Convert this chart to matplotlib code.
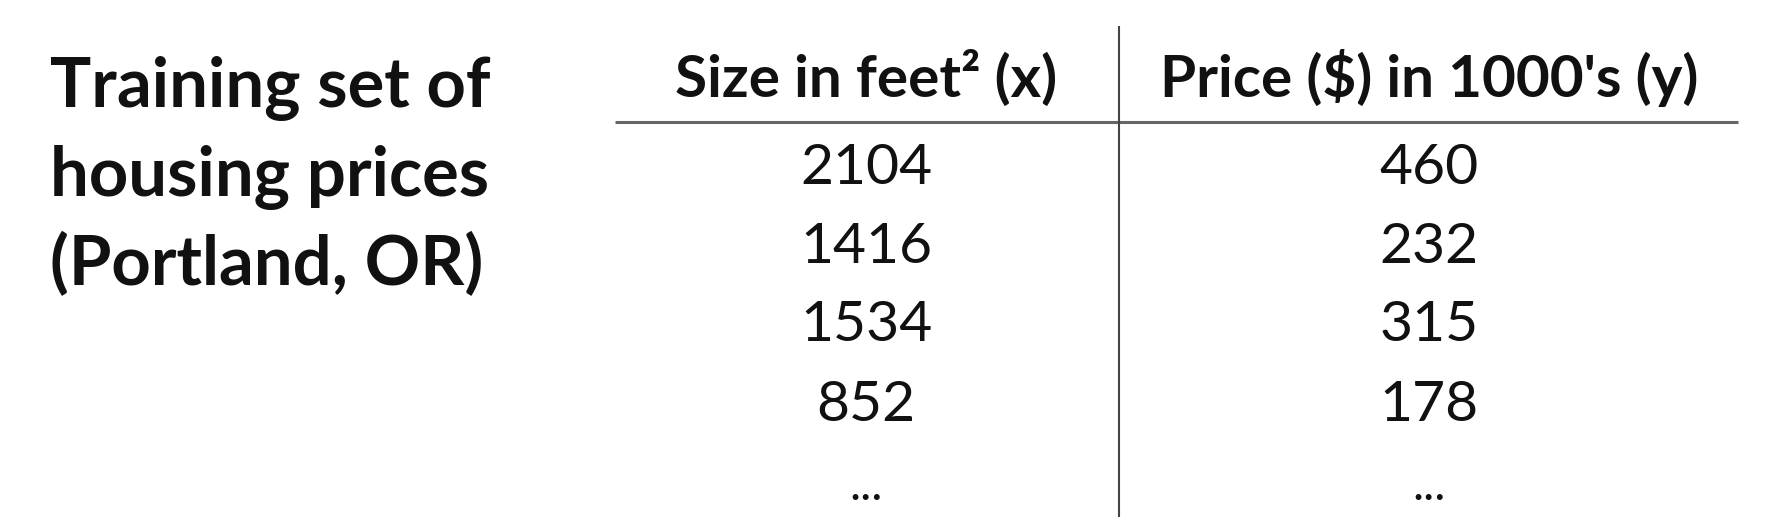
import matplotlib
matplotlib.use("Agg")
import matplotlib.pyplot as plt

# ---- data ----
title_lines = ["Training set of", "housing prices", "(Portland, OR)"]
col_headers = ["Size in feet\u00b2 (x)", "Price ($) in 1000's (y)"]
sizes = ["2104", "1416", "1534", "852", "..."]
prices = ["460", "232", "315", "178", "..."]

W, H = 1782, 532
fig = plt.figure(figsize=(W / 100, H / 100), dpi=100)
ax = fig.add_axes([0, 0, 1, 1])
ax.set_xlim(0, W)
ax.set_ylim(H, 0)
ax.axis("off")

FONT = "Lato"
TXT = "#111111"

# left title
title_y = [107, 196, 285]
for line, y in zip(title_lines, title_y):
    ax.text(50, y, line, fontsize=49.5, fontweight="bold", family=FONT,
            color=TXT, ha="left", va="baseline")

# column layout
col_x = [866, 1429]
for cx, hdr in zip(col_x, col_headers):
    ax.text(cx, 97, hdr, fontsize=42, fontweight="bold",
            family=FONT, color=TXT, ha="center", va="baseline")

# grid lines
ax.plot([615, 1738], [122, 122], color="#666666", lw=2.2, solid_capstyle="butt")
ax.plot([1119, 1119], [26, 517], color="#444444", lw=1.5, solid_capstyle="butt")

row_y = [184, 263, 341, 421]
for i, (s, p) in enumerate(zip(sizes, prices)):
    if s == "...":
        for cx, v in zip(col_x, (s, p)):
            ax.text(cx, 500, v, fontsize=34, family=FONT, color=TXT,
                    ha="center", va="baseline")
    else:
        for cx, v in zip(col_x, (s, p)):
            ax.text(cx, row_y[i], v, fontsize=41, family=FONT, color=TXT,
                    ha="center", va="baseline")

fig.savefig("out.png", dpi=100, facecolor="white")
